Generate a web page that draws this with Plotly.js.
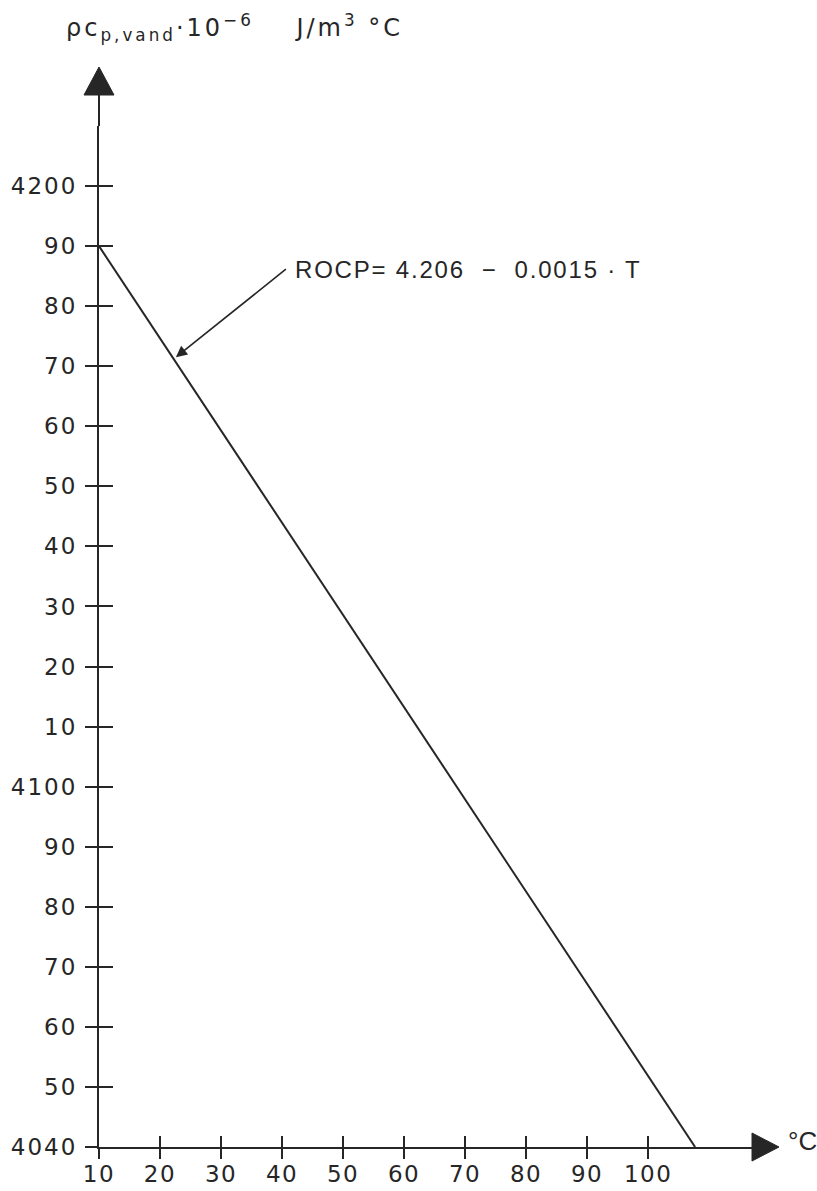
<!DOCTYPE html>
<html>
<head>
<meta charset="utf-8">
<script src="https://cdn.plot.ly/plotly-3.0.1.min.js"></script>
<style>html,body{margin:0;padding:0;background:#fff;}#chart{width:817px;height:1191px;}</style>
</head>
<body>
<div id="chart"></div>
<script>
// Data
const temperature = [10, 107.7];          // °C
const rocp = [4190, 4040];                 // ρc_p · 10^-6 J/m3 °C
const xTickVals = [10, 20, 30, 40, 50, 60, 70, 80, 90, 100];
const xTickText = ['10', '20', '30', '40', '50', '60', '70', '80', '90', '100'];
const yTickVals = [4040, 4050, 4060, 4070, 4080, 4090, 4100, 4110, 4120, 4130, 4140, 4150, 4160, 4170, 4180, 4190, 4200];
const yTickText = ['4040', '50', '60', '70', '80', '90', '4100', '10', '20', '30', '40', '50', '60', '70', '80', '90', '4200'];
const xRange = [10, 118.5];
const yRange = [4040, 4210];

const W = 817, H = 1191, ML = 99, MR = 56, MT = 126, MB = 44;
const pw = W - ML - MR, ph = H - MT - MB;
const px = x => (x - ML) / pw;
const py = y => (H - MB - y) / ph;
const ink = '#262626';
const fontFam = 'DejaVu Sans, Liberation Sans, sans-serif';
const spaced = (s, sp) => `<span style="letter-spacing:${sp}px">${s}</span>`;

const traces = [
  {x: temperature, y: rocp, type: 'scatter', mode: 'lines', line: {color: ink, width: 2}, hoverinfo: 'skip', showlegend: false},
  {x: xRange, y: yRange, xaxis: 'x2', yaxis: 'y2', type: 'scatter', mode: 'markers', marker: {opacity: 0}, hoverinfo: 'skip', showlegend: false}
];

const axBase = {
  showgrid: false, zeroline: false, showline: true, linecolor: ink, linewidth: 2,
  tickmode: 'array', ticks: 'outside', ticklen: 11, tickwidth: 2, tickcolor: ink,
  tickfont: {family: fontFam, size: 23, color: ink}, fixedrange: true
};

const layout = {
  width: W, height: H,
  margin: {l: ML, r: MR, t: MT, b: MB},
  paper_bgcolor: '#ffffff', plot_bgcolor: 'rgba(0,0,0,0)',
  showlegend: false,
  xaxis: Object.assign({}, axBase, {range: xRange, tickvals: xTickVals, ticktext: xTickText.map(t => spaced(t, 1.5)), ticklen: 10, ticklabelstandoff: -5}),
  yaxis: Object.assign({}, axBase, {range: yRange, tickvals: yTickVals, ticktext: yTickText.map(t => spaced(t, 2)), ticklen: 12, ticklabelstandoff: 3}),
  xaxis2: {overlaying: 'x', range: xRange, showgrid: false, zeroline: false, showline: false, tickmode: 'array', tickvals: xTickVals, ticks: 'inside', ticklen: 11, tickwidth: 2, tickcolor: ink, showticklabels: false, anchor: 'y2', side: 'bottom', fixedrange: true},
  yaxis2: {overlaying: 'y', range: yRange, showgrid: false, zeroline: false, showline: false, tickmode: 'array', tickvals: yTickVals, ticks: 'inside', ticklen: 14, tickwidth: 2, tickcolor: ink, showticklabels: false, anchor: 'x2', side: 'left', fixedrange: true},
  shapes: [
    {type: 'line', xref: 'paper', yref: 'paper', x0: 0, x1: 0, y0: 1, y1: py(94), line: {color: ink, width: 2}},
    {type: 'path', xref: 'paper', yref: 'paper', path: `M ${-15 / pw} ${py(95)} L ${15 / pw} ${py(95)} L 0 ${py(67)} Z`, fillcolor: ink, line: {color: ink, width: 1}},
    {type: 'path', xref: 'paper', yref: 'paper', path: `M ${px(752)} ${py(1133)} L ${px(752)} ${py(1161)} L ${px(779)} 0 Z`, fillcolor: ink, line: {color: ink, width: 1}}
  ],
  annotations: [
    {xref: 'paper', yref: 'paper', x: px(64), y: py(27), xanchor: 'left', yanchor: 'middle', showarrow: false,
     text: spaced('ρc<sub>p,vand</sub>·10<sup>−6</sup>    J/m<sup>3</sup> °C', 3), font: {family: fontFam, size: 24, color: ink}},
    {xref: 'paper', yref: 'paper', x: px(786), y: py(1141), xanchor: 'left', yanchor: 'middle', showarrow: false,
     text: '°C', font: {family: 'Liberation Sans, Arial, sans-serif', size: 26, color: ink}},
    {x: 22.6, y: 4171.5, xref: 'x', yref: 'y', ax: 110, ay: -88, xanchor: 'left', yanchor: 'middle',
     showarrow: true, arrowhead: 2, arrowsize: 1.4, arrowwidth: 1.6, arrowcolor: ink, borderpad: 8,
     text: spaced('ROCP= 4.206  −  0.0015 · T', 1.8), font: {family: 'Liberation Sans, Arial, sans-serif', size: 24, color: ink}}
  ]
};

Plotly.newPlot('chart', traces, layout, {staticPlot: true, displayModeBar: false});
</script>
</body>
</html>
